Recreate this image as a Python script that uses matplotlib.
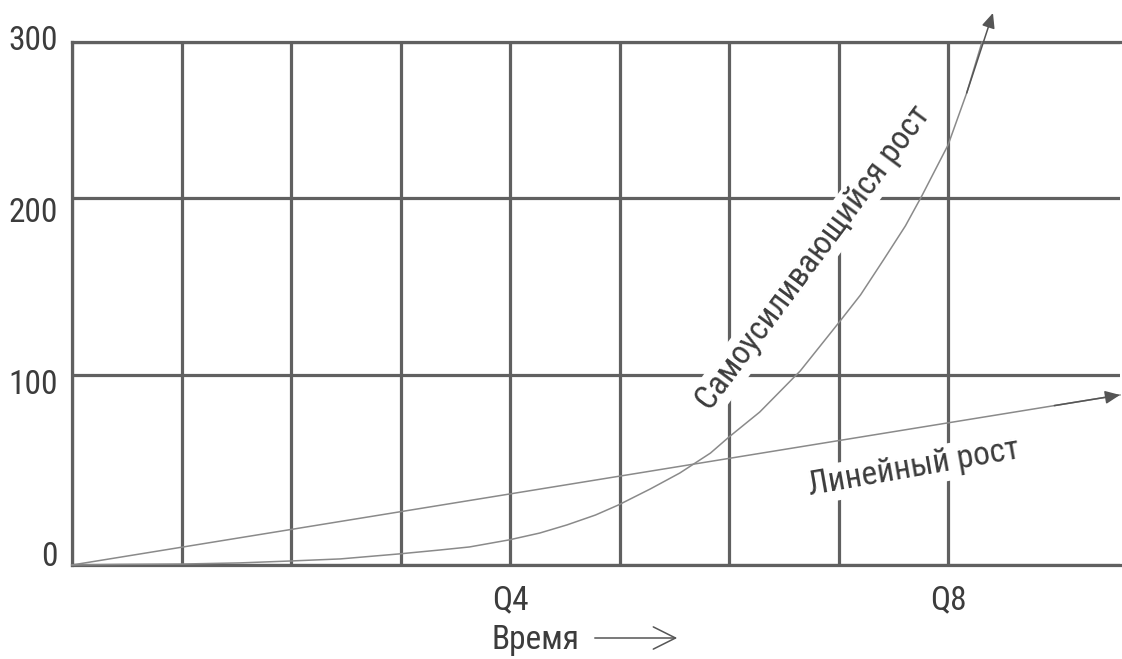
import numpy as np
import matplotlib
matplotlib.use("Agg")
import matplotlib.pyplot as plt
from matplotlib.transforms import ScaledTranslation
from matplotlib import font_manager as fm

# ---- data (quarters on x, value on y) ----
quarters = list(range(9))
xtick_labels = ['', '', '', '', 'Q4', '', '', '', 'Q8']
y_ticks = [0, 100, 200, 300]

exp_x = [0, 0.44, 1.00, 1.53, 1.99, 2.45, 2.98, 3.36, 3.63, 3.99, 4.27, 4.52,
         4.78, 4.99, 5.28, 5.55, 5.83, 6.00, 6.28, 6.65, 7.00, 7.20, 7.41,
         7.61, 7.76, 8.00, 8.17, 8.31, 8.41]
exp_y = [0, 0.3, 0.5, 1.1, 2.1, 3.2, 5.8, 7.9, 9.5, 13.2, 16.8, 21.1,
         26.3, 31.6, 40.0, 48.4, 58.9, 67.4, 80.5, 102.3, 129.4, 145.2, 165.0,
         184.2, 201.3, 234.0, 267.3, 300.0, 318.6]

lin_x = [0, 9.57]
lin_y = [0, 89.5]

label_exp = 'Самоусиливающийся рост'
label_lin = 'Линейный рост'
xlabel = 'Время'

# ---- pick a narrow sans font if one is installed ----
def find_narrow():
    prefs = ['liberation sans narrow', 'roboto condensed', 'open sans condensed',
             'dejavu sans condensed', 'noto sans condensed']
    cands = []
    for f in fm.fontManager.ttflist:
        name = f.name.lower()
        path = f.fname.lower()
        narrow = ('narrow' in name or 'condensed' in name or 'condensed' in path
                  or 'narrow' in path or str(f.stretch) in ('condensed', 'semi-condensed'))
        if not narrow:
            continue
        if f.style != 'normal' or f.weight not in (400, 'normal', 'regular'):
            continue
        bad = any(k in path for k in ('bold', 'italic', 'oblique', 'light', 'thin', 'black', 'medium'))
        if bad:
            continue
        cands.append(f)
    def rank(f):
        p = f.fname.lower()
        for i, k in enumerate(prefs):
            if k.replace(' ', '') in p.replace('-', '').replace('_', '').replace(' ', ''):
                return i
        return len(prefs)
    cands.sort(key=rank)
    return cands[0].fname if cands else None

narrow_path = find_narrow()
if narrow_path:
    FP = fm.FontProperties(fname=narrow_path)
    FS = 24
else:
    FP = fm.FontProperties(family='DejaVu Sans')
    FS = 20

# ---- non-uniform vertical scale (as drawn in the original) ----
_v = np.array([-1000, 0, 100, 200, 300, 1000], dtype=float)
_p = np.array([-1900, 0, 190, 367, 523, 523 + 700 * 1.56], dtype=float)

def fwd(v):
    return np.interp(v, _v, _p)

def inv(p):
    return np.interp(p, _p, _v)

W, H = 1122, 659
fig = plt.figure(figsize=(W / 100, H / 100), dpi=100)
ax = fig.add_axes([72 / W, 1 - 565 / H, (1120 - 72) / W, (565 - 42) / H])
ax.set_yscale('function', functions=(fwd, inv))
ax.set_xlim(0, 9.57)
ax.set_ylim(0, 300)

grid_c = '#606060'
text_c = '#3c3c3c'
curve_c = '#8a8a8a'

ax.set_xticks(quarters)
ax.set_xticklabels(xtick_labels)
ax.set_yticks(y_ticks)
ax.set_yticklabels([str(t) for t in y_ticks])
ax.tick_params(length=0, colors=text_c)
ax.tick_params(axis='x', pad=14)
ax.tick_params(axis='y', pad=10)
for lab in ax.get_xticklabels() + ax.get_yticklabels():
    lab.set_fontproperties(FP)
    lab.set_fontsize(FS)
ax.grid(True, color=grid_c, lw=2.3, zorder=0)
ax.set_axisbelow(True)
for s in ['left', 'top', 'bottom']:
    ax.spines[s].set_color(grid_c)
    ax.spines[s].set_linewidth(2.3)
ax.spines['right'].set_visible(False)

# hand placed offsets of y labels (pixels)
offsets = [12, -7, -12, 4]
for lab, dy in zip(ax.get_yticklabels(), offsets):
    lab.set_transform(lab.get_transform() + ScaledTranslation(0, dy / 100, fig.dpi_scale_trans))

# curves
ax.plot(exp_x[:-1], exp_y[:-1], color=curve_c, lw=1.1, zorder=3, clip_on=False)
ax.annotate('', xy=(exp_x[-1], exp_y[-1]), xytext=(exp_x[-3], exp_y[-3]),
            arrowprops=dict(arrowstyle='-|>,head_length=0.9,head_width=0.4',
                            color='#555555', lw=1.1, shrinkA=0, shrinkB=0),
            annotation_clip=False, zorder=4)
ax.plot(lin_x, lin_y, color=curve_c, lw=1.1, zorder=3, clip_on=False)
ax.annotate('', xy=(lin_x[-1], lin_y[-1]),
            xytext=(lin_x[-1] - 0.6, lin_y[-1] - 0.6 * lin_y[-1] / lin_x[-1]),
            arrowprops=dict(arrowstyle='-|>,head_length=0.9,head_width=0.4',
                            color='#555555', lw=1.1, shrinkA=0, shrinkB=0),
            annotation_clip=False, zorder=4)

# curve labels
box = dict(facecolor='white', edgecolor='none', pad=2)
ax.text(6.77, 166, label_exp, rotation=53.4, ha='center', va='center',
        rotation_mode='anchor', fontproperties=FP, fontsize=FS, color=text_c,
        bbox=box, zorder=2)
ax.text(7.69, 51, label_lin, rotation=10, ha='center', va='center',
        rotation_mode='anchor', fontproperties=FP, fontsize=FS, color=text_c,
        bbox=box, zorder=2)

# x label with arrow
fig.text(535 / W, 1 - 640 / H, xlabel, ha='center', va='center',
         fontproperties=FP, fontsize=FS, color=text_c)
fig.add_artist(matplotlib.patches.FancyArrowPatch(
    (592 / W, 1 - 638 / H), (680 / W, 1 - 638 / H), transform=fig.transFigure,
    arrowstyle='->,head_length=0.8,head_width=0.4', color='#555555', lw=1.1,
    mutation_scale=20))

fig.savefig('out.png', dpi=100)
